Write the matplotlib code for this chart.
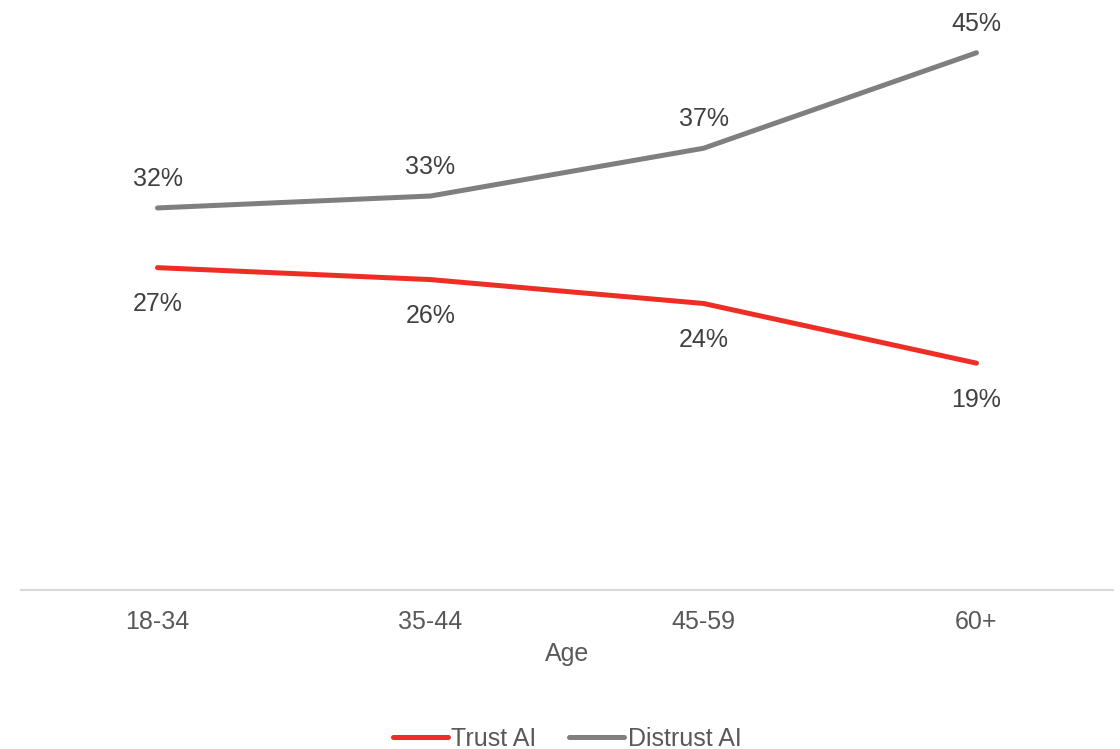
import matplotlib
matplotlib.use("Agg")
import matplotlib.pyplot as plt
from matplotlib.lines import Line2D

plt.rcParams['font.family'] = ['Liberation Sans', 'DejaVu Sans']

ages = ["18-34", "35-44", "45-59", "60+"]
trust = [27, 26, 24, 19]
distrust = [32, 33, 37, 45]

RED = "#EE2E24"
GREY = "#7F7F7F"
LABEL = "#404040"
TICK = "#595959"

W, H = 1120, 749
fig = plt.figure(figsize=(W / 100, H / 100), dpi=100)
ax = fig.add_axes([21 / W, (H - 590) / H, (1113 - 21) / W, 588 / H])

x = list(range(len(ages)))
ax.plot(x, trust, color=RED, lw=3.6, solid_capstyle="round")
ax.plot(x, distrust, color=GREY, lw=3.6, solid_capstyle="round")

for xi, v in zip(x, distrust):
    ax.annotate(f"{v}%", (xi, v), xytext=(0, 21), textcoords="offset points",
                ha="center", va="center", fontsize=18, color=LABEL)
for xi, v in zip(x, trust):
    ax.annotate(f"{v}%", (xi, v), xytext=(0, -26.5), textcoords="offset points",
                ha="center", va="center", fontsize=18, color=LABEL)

ax.set_xlim(-0.5, len(ages) - 0.5)
ax.set_ylim(0, 49.25)
ax.set_xticks(x)
ax.set_xticklabels(ages, fontsize=18, color=TICK)
ax.tick_params(axis="x", length=0, pad=14.5)
ax.set_yticks([])
for side in ["left", "right", "top"]:
    ax.spines[side].set_visible(False)
ax.spines["bottom"].set_color("#D9D9D9")
ax.spines["bottom"].set_linewidth(1.5)
ax.set_xlabel("Age", fontsize=18, color=TICK, labelpad=6)

handles = [Line2D([], [], color=RED, lw=3.6, solid_capstyle="round"),
           Line2D([], [], color=GREY, lw=3.6, solid_capstyle="round")]
fig.legend(handles, ["Trust AI", "Distrust AI"], loc="center",
           bbox_to_anchor=(567 / W, 1 - 739 / H), ncol=2, frameon=False,
           fontsize=18, labelcolor=TICK, handlelength=2.2, handletextpad=0.15,
           columnspacing=1.3, borderaxespad=0)

fig.savefig("out.png", dpi=100)
